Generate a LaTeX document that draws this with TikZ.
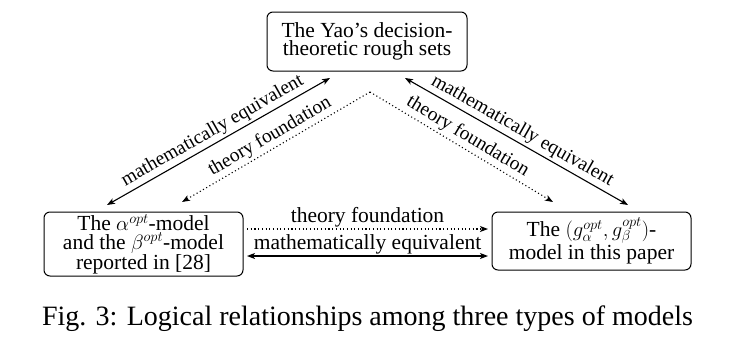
\documentclass[tikz,border=0pt]{standalone}
\usepackage{fontspec}
\setmainfont{Liberation Serif}
\usetikzlibrary{arrows.meta}
\begin{document}
\begin{tikzpicture}[x=1pt,y=-1pt,
  box/.style={draw, rounded corners=6pt, line width=1pt, align=center, inner sep=0pt,
    font=\fontsize{21.5}{18.5}\selectfont},
  lab/.style={font=\fontsize{21.5}{20}\selectfont, inner sep=1.5pt},
  slab/.style={font=\fontsize{19.5}{20}\selectfont, inner sep=2.5pt, midway, sloped, above},
  arr/.style={line width=1.1pt, {Stealth[length=8pt,width=6pt,inset=2pt]}-{Stealth[length=8pt,width=6pt,inset=2pt]}},
  dotarr/.style={line width=1.1pt, dash pattern=on 1.1pt off 2.6pt, -{Stealth[length=8pt,width=6pt,inset=2pt]}}
]
\useasboundingbox (0,0) rectangle (739,341);
\node[box, minimum width=200pt, minimum height=59pt] (yao) at (367,41.5)
  {The Yao’s decision-\\theoretic rough sets};
\node[box, minimum width=199pt, minimum height=64pt] (ab) at (143.5,244)
  {The $\alpha^{opt}$-model\\and the $\beta^{opt}$-model\\reported in [28]};
\node[box, minimum width=199pt, minimum height=58pt] (gg) at (591.5,241)
  {The $(g_\alpha^{opt},g_\beta^{opt})$-\\model in this paper};
\coordinate (apex) at (370,92);
\coordinate (yl) at (330,78);
\coordinate (yr) at (405,78);
\coordinate (abs) at (107,205);
\coordinate (abd) at (182,202);
\coordinate (ggs) at (628,205);
\coordinate (ggd) at (553,202);
\coordinate (abr1) at (247,229);
\coordinate (ggl1) at (488,229);
\coordinate (abr2) at (247,256);
\coordinate (ggl2) at (488,256);
\draw[arr] (abs) -- node[slab] {mathematically equivalent} (yl);
\draw[dotarr] (apex) -- node[slab] {theory foundation} (abd);
\draw[arr] (yr) -- node[slab] {mathematically equivalent} (ggs);
\draw[dotarr] (apex) -- node[slab] {theory foundation} (ggd);
\draw[dotarr] (abr1) -- node[lab, midway, above] {theory foundation} (ggl1);
\draw[arr] (abr2) -- node[lab, midway, above] {mathematically equivalent} (ggl2);
\node[anchor=base, font=\fontsize{28}{30}\selectfont, inner sep=0pt] (cap) at (367.5,325)
  {Fig. 3: Logical relationships among three types of models};
\end{tikzpicture}
\end{document}
